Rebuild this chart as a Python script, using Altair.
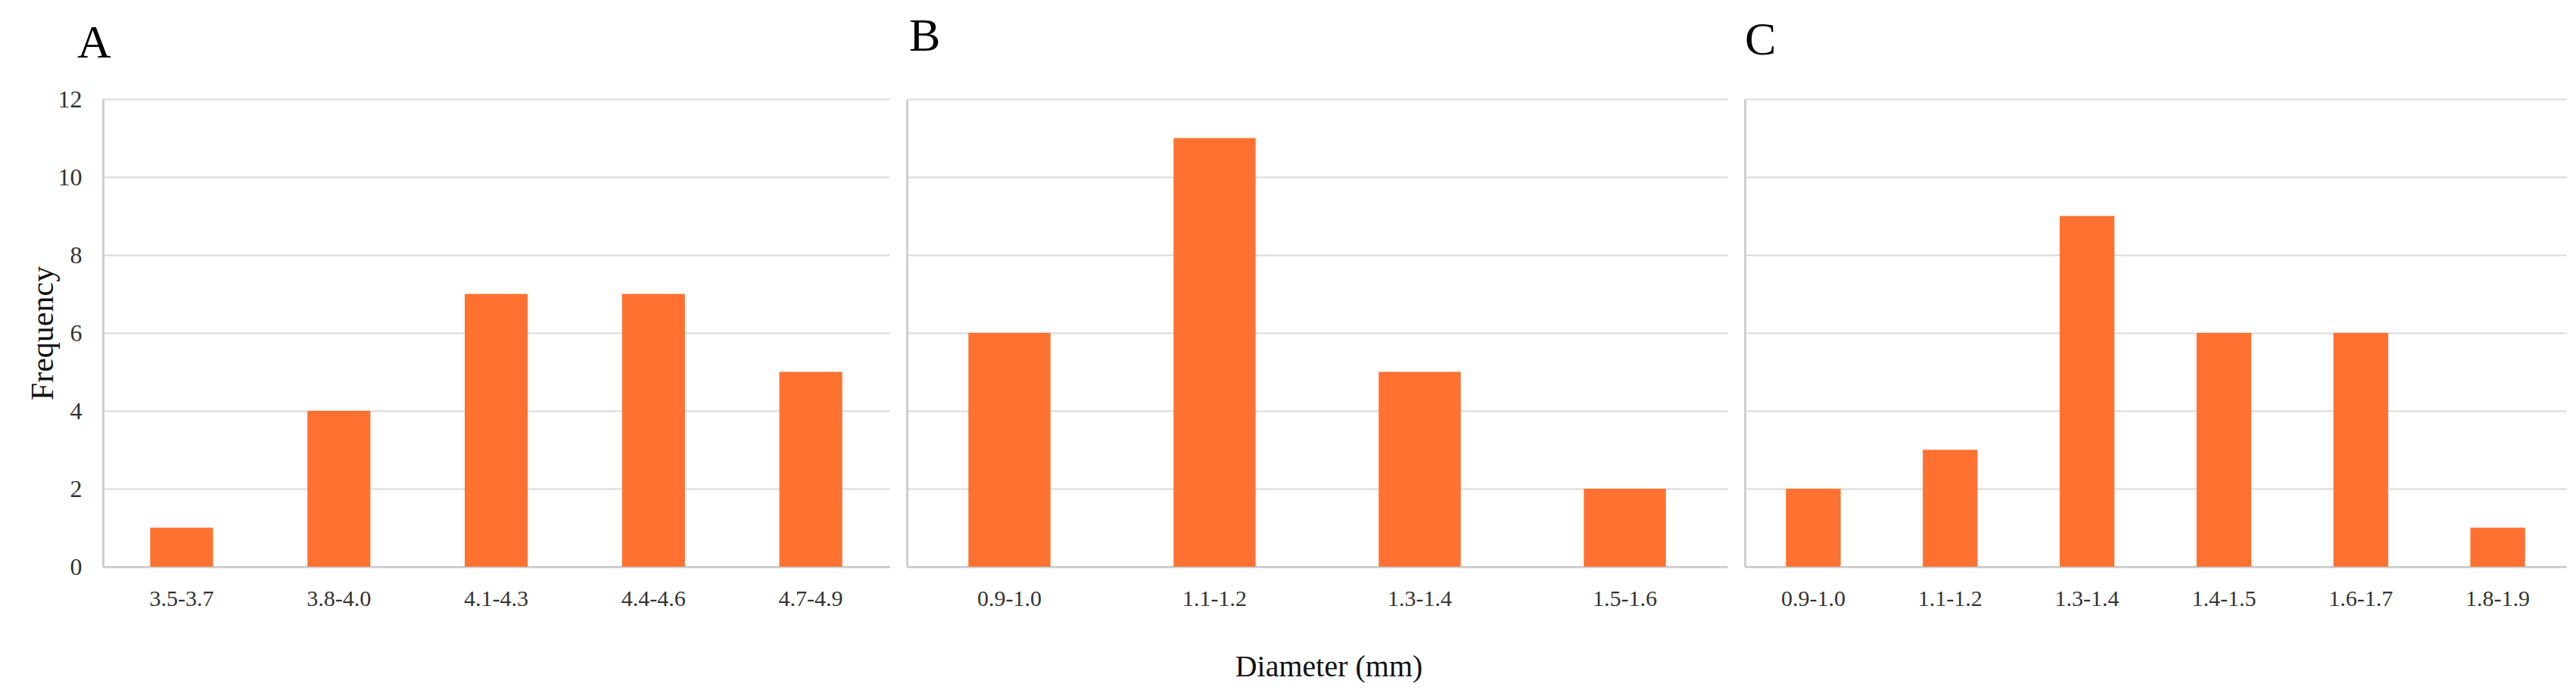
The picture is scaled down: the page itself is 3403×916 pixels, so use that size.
import altair as alt
import pandas as pd

# ---- data ----
a_bins = ["3.5-3.7", "3.8-4.0", "4.1-4.3", "4.4-4.6", "4.7-4.9"]
a_freq = [1, 4, 7, 7, 5]
b_bins = ["0.9-1.0", "1.1-1.2", "1.3-1.4", "1.5-1.6"]
b_freq = [6, 11, 5, 2]
c_bins = ["0.9-1.0", "1.1-1.2", "1.3-1.4", "1.4-1.5", "1.6-1.7", "1.8-1.9"]
c_freq = [2, 3, 9, 6, 6, 1]
y_ticks = [0, 2, 4, 6, 8, 10, 12]
panel_letters = ["A", "B", "C"]
x_title = "Diameter (mm)"
y_title = "Frequency"

FONT = "Liberation Serif"
BAR = "#FE7130"
GRID = "#D9D9D9"
DOMAIN = "#CFCFCF"
PLOT_H = 618


def panel(bins, freq, letter, width, first, xtitle, title_dx, title_offset):
    df = pd.DataFrame({"bin": bins, "freq": freq})
    xkw = dict(labelFont=FONT, labelFontSize=30, labelColor="#333333",
               labelPadding=27, labelAngle=0, ticks=False, grid=False,
               domainColor=DOMAIN, domainWidth=3)
    if xtitle:
        xkw.update(title=xtitle, titleFont=FONT, titleFontSize=40,
                   titleFontWeight="normal", titleColor="#111111",
                   titlePadding=55, titleX=width / 2 + 15)
    else:
        xkw.update(title=None)
    ykw = dict(values=y_ticks, grid=True, gridColor=GRID, gridWidth=2,
               ticks=False, domainColor=DOMAIN, domainWidth=3)
    if first:
        ykw.update(labelFont=FONT, labelFontSize=32, labelColor="#333333",
                   labelPadding=28, title=y_title, titleFont=FONT,
                   titleFontSize=42, titleFontWeight="normal",
                   titleColor="#111111", titleAngle=270, titleX=-100,
                   titleY=PLOT_H / 2, titleBaseline="top", titleAlign="center")
    else:
        ykw.update(labels=False, title=None)
    return alt.Chart(df).mark_bar(color=BAR).encode(
        x=alt.X("bin:N", sort=bins,
                scale=alt.Scale(paddingInner=0.6, paddingOuter=0.3),
                axis=alt.Axis(**xkw)),
        y=alt.Y("freq:Q", scale=alt.Scale(domain=[0, 12], nice=False),
                axis=alt.Axis(**ykw)),
    ).properties(
        width=width, height=PLOT_H,
        title=alt.TitleParams(letter, anchor="start", frame="group",
                              font=FONT, fontSize=62, fontWeight="normal",
                              color="#000000", dx=title_dx,
                              offset=title_offset),
    )


pa = panel(a_bins, a_freq, panel_letters[0], 1039, True, None, -34, 26)
pb = panel(b_bins, b_freq, panel_letters[1], 1084, False, x_title, 3, 51)
pc = panel(c_bins, c_freq, panel_letters[2], 1085, False, None, 0, 46)

chart = alt.hconcat(pa, pb, pc, spacing=23).properties(
    padding={"left": 27, "top": 9, "right": 5, "bottom": 5},
    background="white",
).configure_view(stroke=None)

chart.save("out.html", embed_options={"renderer": "svg", "actions": False})
